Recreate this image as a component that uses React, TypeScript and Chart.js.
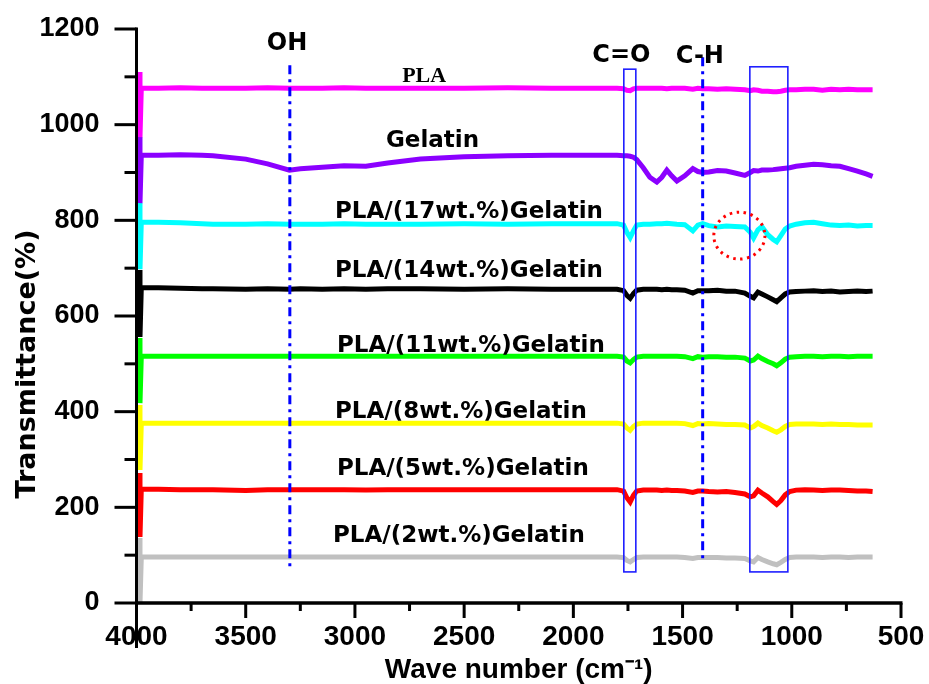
import React, { useEffect, useRef } from 'react';
import { Chart, registerables } from 'chart.js';

Chart.register(...registerables);

// ---- data -------------------------------------------------------------
const WAVENUMBERS = [
  3985, 3984, 3978, 3900, 3800, 3700, 3650, 3500, 3400, 3300,
  3250, 3150, 3050, 2950, 2850, 2700, 2500, 2300, 2100, 1900,
  1800, 1770, 1755, 1740, 1725, 1710, 1680, 1650, 1618, 1595,
  1572, 1550, 1526, 1490, 1453, 1430, 1408, 1380, 1340, 1300,
  1260, 1215, 1190, 1175, 1155, 1137, 1110, 1085, 1069, 1050,
  1030, 1010, 980, 940, 900, 860, 820, 780, 740, 700,
  660, 630,
];

const PLA = [
  1110, 974, 1076, 1076, 1077, 1076, 1076, 1076, 1077, 1076,
  1076, 1076, 1077, 1076, 1076, 1076, 1076, 1077, 1076, 1076,
  1076, 1075, 1072, 1071, 1075, 1076, 1076, 1076, 1076, 1076,
  1075, 1076, 1076, 1076, 1074, 1076, 1075, 1075, 1074, 1075,
  1074, 1073, 1071, 1073, 1072, 1070, 1070, 1069, 1069, 1070,
  1072, 1073, 1073, 1074, 1074, 1072, 1074, 1073, 1074, 1073,
  1073, 1073,
];

const GELATIN = [
  974, 836, 936, 936, 937, 936, 935, 928, 918, 905,
  908, 911, 914, 913, 920, 928, 933, 935, 936, 936,
  936, 935, 935, 934, 932, 927, 910, 890, 880, 890,
  905, 893, 882, 893, 908, 902, 900, 901, 904, 903,
  899, 894, 900, 904, 903, 905, 905, 906, 907, 908,
  909, 910, 913, 915, 917, 916, 914, 913, 908, 903,
  897, 892,
];

const PLA_GEL_17 = [
  836, 698, 796, 796, 795, 793, 792, 792, 793, 792,
  792, 792, 793, 792, 792, 792, 793, 792, 793, 793,
  793, 790, 775, 764, 778, 790, 792, 792, 793, 793,
  794, 793, 792, 791, 778, 790, 793, 789, 786, 788,
  787, 786, 775, 763, 780, 787, 770, 760, 755, 768,
  782, 788, 792, 795, 796, 793, 790, 789, 790, 788,
  789, 789,
];

const PLA_GEL_14 = [
  696, 556, 659, 659, 658, 657, 657, 656, 657, 656,
  657, 656, 657, 656, 657, 657, 656, 657, 656, 656,
  656, 653, 643, 637, 647, 654, 656, 656, 656, 655,
  656, 655, 655, 654, 648, 653, 653, 653, 654, 652,
  652, 648, 641, 638, 650, 646, 640, 634, 630, 638,
  646, 650, 651, 652, 653, 651, 652, 650, 651, 652,
  651, 652,
];

const PLA_GEL_11 = [
  554, 418, 516, 516, 516, 516, 516, 516, 516, 516,
  516, 516, 516, 516, 516, 516, 516, 516, 516, 516,
  516, 514, 506, 502, 509, 514, 516, 516, 516, 516,
  516, 516, 516, 515, 511, 515, 514, 515, 515, 514,
  514, 512, 506, 508, 516, 511, 505, 500, 496, 502,
  510, 514, 515, 516, 516, 515, 516, 516, 515, 516,
  516, 516,
];

const PLA_GEL_8 = [
  414, 278, 376, 376, 376, 376, 376, 376, 376, 376,
  376, 376, 376, 376, 376, 376, 376, 376, 376, 376,
  376, 374, 366, 361, 369, 374, 376, 376, 376, 376,
  376, 376, 376, 375, 371, 375, 374, 375, 374, 373,
  373, 372, 366, 369, 376, 371, 366, 360, 357, 362,
  369, 373, 374, 374, 374, 373, 374, 373, 373, 372,
  372, 372,
];

const PLA_GEL_5 = [
  272, 138, 238, 238, 237, 237, 237, 235, 237, 237,
  237, 237, 237, 236, 237, 237, 237, 237, 237, 237,
  237, 234, 220, 211, 225, 234, 236, 236, 236, 235,
  236, 235, 235, 234, 231, 234, 234, 233, 232, 233,
  231, 228, 222, 224, 236, 230, 222, 212, 206, 214,
  226, 233, 236, 237, 236, 235, 236, 236, 235, 234,
  234, 233,
];

const PLA_GEL_2 = [
  136, 0, 96, 96, 96, 96, 96, 96, 96, 96,
  96, 96, 96, 96, 96, 96, 96, 96, 96, 96,
  96, 95, 89, 86, 91, 95, 96, 96, 96, 96,
  96, 96, 96, 95, 93, 95, 95, 95, 95, 94,
  94, 93, 88, 86, 95, 91, 86, 82, 80, 85,
  91, 95, 96, 96, 96, 95, 96, 96, 95, 96,
  96, 96,
];

const SERIES_NAMES = [
  'PLA', 'Gelatin', 'PLA/(17wt.%)Gelatin', 'PLA/(14wt.%)Gelatin',
  'PLA/(11wt.%)Gelatin', 'PLA/(8wt.%)Gelatin', 'PLA/(5wt.%)Gelatin', 'PLA/(2wt.%)Gelatin',
];
const SERIES_VALUES = [PLA, GELATIN, PLA_GEL_17, PLA_GEL_14, PLA_GEL_11, PLA_GEL_8, PLA_GEL_5, PLA_GEL_2];
const SERIES_COLORS = ['#FF00FF', '#8B00FF', '#00FFFF', '#000000', '#00FF00', '#FFFF00', '#FF0000', '#C0C0C0'];

const X_TICKS = [4000, 3500, 3000, 2500, 2000, 1500, 1000, 500];
const Y_TICKS = [0, 200, 400, 600, 800, 1000, 1200];

// annotation anchors (data units)
const MARKER_LINES = [
  { x: 3298, from: 69, to: 1124 },
  { x: 1408, from: 84, to: 1141 },
];
const MARKER_BOXES = [
  { from: 1769, to: 1714, bottom: 65, top: 1116 },
  { from: 1192, to: 1018, bottom: 65, top: 1121 },
];
const MARKER_CIRCLE = { x: 1240, y: 768, rx: 117, ry: 49 };
const PEAK_LABELS = [
  { text: 'OH', x: 3311, y: 1156 },
  { text: 'C=O', x: 1780, y: 1131 },
  { text: 'C-H', x: 1421, y: 1129 },
];
const SERIES_LABEL_POS = [
  { x: 2683, y: 1089 },
  { x: 2645, y: 953 },
  { x: 2478, y: 805 },
  { x: 2478, y: 682 },
  { x: 2469, y: 525 },
  { x: 2515, y: 387 },
  { x: 2506, y: 268 },
  { x: 2524, y: 128 },
];

// ---- plugin -----------------------------------------------------------
const overlay = {
  id: 'overlay',
  afterDatasetsDraw(chart: any) {
    const { ctx, scales } = chart;
    const X = (v: number) => scales.x.getPixelForValue(v);
    const Y = (v: number) => scales.y.getPixelForValue(v);
    ctx.save();
    // boxes
    ctx.strokeStyle = '#1f1fff';
    ctx.lineWidth = 1.6;
    ctx.setLineDash([]);
    for (const b of MARKER_BOXES) {
      const l = X(b.from), r = X(b.to), t = Y(b.top), bt = Y(b.bottom);
      ctx.strokeRect(l, t, r - l, bt - t);
    }
    // dash-dot lines
    ctx.strokeStyle = '#0000FF';
    ctx.lineWidth = 3;
    ctx.setLineDash([9, 5, 3, 5]);
    for (const m of MARKER_LINES) {
      ctx.beginPath();
      ctx.moveTo(X(m.x), Y(m.to));
      ctx.lineTo(X(m.x), Y(m.from));
      ctx.stroke();
    }
    // dotted circle
    ctx.strokeStyle = '#FF0000';
    ctx.lineWidth = 3;
    ctx.setLineDash([2.5, 4.5]);
    const cx = X(MARKER_CIRCLE.x), cy = Y(MARKER_CIRCLE.y);
    const rx = Math.abs(X(MARKER_CIRCLE.x + MARKER_CIRCLE.rx) - cx);
    const ry = Math.abs(Y(MARKER_CIRCLE.y + MARKER_CIRCLE.ry) - cy);
    ctx.beginPath();
    ctx.ellipse(cx, cy, rx, ry, 0, 0, Math.PI * 2);
    ctx.stroke();
    ctx.setLineDash([]);

    // labels
    ctx.fillStyle = '#000';
    ctx.textAlign = 'center';
    ctx.textBaseline = 'alphabetic';
    ctx.font = 'bold 24px "DejaVu Sans"';
    for (const p of PEAK_LABELS) ctx.fillText(p.text, X(p.x), Y(p.y));
    SERIES_NAMES.forEach((name, i) => {
      const pos = SERIES_LABEL_POS[i];
      ctx.font = i === 0 ? 'bold 22px "Liberation Serif"' : 'bold 23px "DejaVu Sans"';
      ctx.fillText(name, X(pos.x), Y(pos.y));
    });
    ctx.restore();
  },
  afterDraw(chart: any) {
    const { ctx, scales, chartArea } = chart;
    const X = (v: number) => scales.x.getPixelForValue(v);
    const Y = (v: number) => scales.y.getPixelForValue(v);
    const ax = chartArea.left;
    const ay = chartArea.bottom;
    ctx.save();
    ctx.strokeStyle = '#000';
    ctx.lineCap = 'butt';
    ctx.setLineDash([]);
    // axis lines
    ctx.lineWidth = 3;
    ctx.beginPath();
    ctx.moveTo(ax, Y(Y_TICKS[Y_TICKS.length - 1]) - 1.5);
    ctx.lineTo(ax, ay + 45);
    ctx.stroke();
    ctx.lineWidth = 3.5;
    ctx.beginPath();
    ctx.moveTo(ax, ay);
    ctx.lineTo(X(X_TICKS[X_TICKS.length - 1]) + 1.5, ay);
    ctx.stroke();
    // y ticks
    ctx.lineWidth = 3;
    Y_TICKS.forEach((v, i) => {
      ctx.beginPath();
      ctx.moveTo(ax - 22, Y(v));
      ctx.lineTo(ax, Y(v));
      ctx.stroke();
      if (i < Y_TICKS.length - 1) {
        const m = (v + Y_TICKS[i + 1]) / 2;
        ctx.beginPath();
        ctx.moveTo(ax - 12, Y(m));
        ctx.lineTo(ax, Y(m));
        ctx.stroke();
      }
    });
    // x ticks
    X_TICKS.forEach((v, i) => {
      ctx.beginPath();
      ctx.moveTo(X(v), ay);
      ctx.lineTo(X(v), ay + 15);
      ctx.stroke();
      if (i < X_TICKS.length - 1) {
        const m = (v + X_TICKS[i + 1]) / 2;
        ctx.beginPath();
        ctx.moveTo(X(m), ay);
        ctx.lineTo(X(m), ay + 8);
        ctx.stroke();
      }
    });
    // y title
    ctx.fillStyle = '#000';
    ctx.font = 'bold 27px "DejaVu Sans"';
    ctx.textAlign = 'center';
    ctx.textBaseline = 'middle';
    ctx.translate(28, 364);
    ctx.rotate(-Math.PI / 2);
    ctx.fillText('Transmittance(%)', 0, 0);
    ctx.restore();
  },
};

export default function App() {
  const ref = useRef<HTMLCanvasElement>(null);
  useEffect(() => {
    const datasets = SERIES_NAMES.map((name, i) => ({
      label: name,
      data: WAVENUMBERS.map((w, j) => ({ x: w, y: SERIES_VALUES[i][j] })),
      borderColor: SERIES_COLORS[i],
      backgroundColor: SERIES_COLORS[i],
      borderWidth: 5,
      pointRadius: 0,
      tension: 0,
      fill: false,
    }));
    const chart = new Chart(ref.current as HTMLCanvasElement, {
      type: 'line',
      data: { datasets },
      plugins: [overlay],
      options: {
        animation: false,
        responsive: false,
        devicePixelRatio: 1,
        layout: { padding: { top: 29, right: 28, left: 0, bottom: 0 } },
        plugins: { legend: { display: false }, tooltip: { enabled: false } },
        scales: {
          x: {
            type: 'linear',
            reverse: true,
            min: 500,
            max: 4000,
            grid: { display: true, drawOnChartArea: false, drawTicks: true, tickLength: 17, color: 'rgba(0,0,0,0)' },
            border: { display: false },
            afterBuildTicks: (s: any) => { s.ticks = X_TICKS.map((v) => ({ value: v })); },
            afterFit: (s: any) => { s.height = 81; },
            ticks: {
              color: '#000',
              padding: 0,
              autoSkip: false,
              maxRotation: 0,
              font: { family: '"Liberation Sans", Arial, sans-serif', size: 28, weight: 'bold' },
              callback: (v: any) => String(v),
            },
            title: {
              display: true,
              text: 'Wave number (cm\u207B\u00B9)',
              color: '#000',
              padding: 0,
              font: { family: '"Liberation Sans", Arial, sans-serif', size: 28, weight: 'bold', lineHeight: 1 },
            },
          },
          y: {
            type: 'linear',
            min: 0,
            max: 1200,
            grid: { display: true, drawOnChartArea: false, drawTicks: true, tickLength: 37, color: 'rgba(0,0,0,0)' },
            border: { display: false },
            afterBuildTicks: (s: any) => { s.ticks = Y_TICKS.map((v) => ({ value: v })); },
            afterFit: (s: any) => { s.width = 136.5; },
            ticks: {
              color: '#000',
              padding: 0,
              autoSkip: false,
              font: { family: '"Liberation Sans", Arial, sans-serif', size: 27, weight: 'bold' },
              callback: (v: any) => String(v),
            },
          },
        },
      },
    } as any);
    return () => chart.destroy();
  }, []);
  return (
    <div style={{ position: 'absolute', left: 0, top: 0, width: 929, height: 684, background: '#fff' }}>
      <canvas ref={ref} width={929} height={684} style={{ display: 'block' }} />
    </div>
  );
}
